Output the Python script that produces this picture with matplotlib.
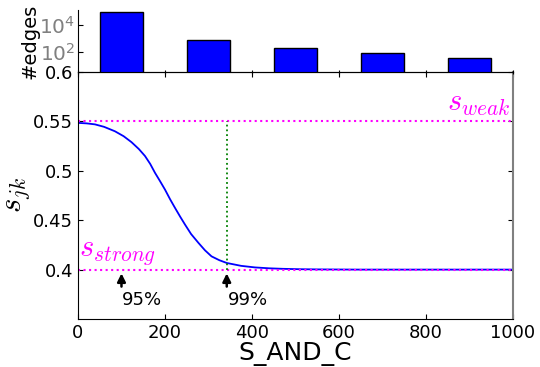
import numpy as np
import matplotlib
matplotlib.use('Agg')
import matplotlib.pyplot as plt

plt.rcParams['mathtext.fontset'] = 'cm'

# 곡선 데이터
curve_x = [0, 20, 39, 60, 85, 105, 123, 140, 154, 166, 177, 188, 200, 212, 223, 235, 246,
           260, 277, 292, 307, 325, 342, 375, 407, 440, 470, 510, 550, 600, 650, 1000]
curve_y = [0.5485, 0.548, 0.547, 0.5445, 0.540, 0.535, 0.529, 0.522, 0.515, 0.507, 0.498,
           0.490, 0.481, 0.471, 0.4625, 0.4535, 0.4456, 0.436, 0.427, 0.4195, 0.4134,
           0.4095, 0.4067, 0.4038, 0.4022, 0.4013, 0.4008, 0.4004, 0.4002, 0.4001, 0.4, 0.4]

# 상단 막대그래프 (#edges)
bar_x = [100, 300, 500, 700, 900]
bar_h = [85000, 750, 185, 80, 37]

s_weak = 0.55
s_strong = 0.4
p95_x = 100
p99_x = 342

fig = plt.figure(figsize=(5.4, 3.67), dpi=100)
ax = fig.add_axes([0.1444, 0.1308, 0.8056, 0.673])
axh = fig.add_axes([0.1444, 0.8038, 0.8056, 0.169], sharex=ax)

# 메인 그래프
ax.plot(curve_x, curve_y, color='blue', lw=1.3)
ax.axhline(s_weak, color='magenta', ls=':', lw=1.5)
ax.axhline(s_strong, color='magenta', ls=':', lw=1.5)
ax.plot([p99_x, p99_x], [s_strong, s_weak], color='green', ls=':', lw=1.3)
ax.text(995, s_weak + 0.003, '$s_{weak}$', color='magenta', fontsize=22, ha='right', va='bottom')
ax.text(2, s_strong + 0.003, '$s_{strong}$', color='magenta', fontsize=22, ha='left', va='bottom')

for px, lab in [(p95_x, '95%'), (p99_x, '99%')]:
    ax.annotate('', xy=(px, s_strong - 0.001), xytext=(px, 0.38),
                arrowprops=dict(arrowstyle='-|>', color='black', lw=1.8, mutation_scale=12))
    ax.text(px + 2, 0.378, lab, fontsize=13, ha='left', va='top')

ax.set_xlim(0, 1000)
ax.set_ylim(0.35, 0.6)
ax.set_xticks([0, 200, 400, 600, 800, 1000])
ax.set_xticklabels(['0', '200', '400', '600', '800', '1000'])
ax.set_yticks([0.4, 0.45, 0.5, 0.55, 0.6])
ax.set_yticklabels(['0.4', '0.45', '0.5', '0.55', '0.6'])
ax.tick_params(direction='in', labelsize=13, top=True, right=True)
ax.spines['right'].set_color('gray')
ax.spines['right'].set_linewidth(1.5)
ax.set_xlabel('S_AND_C', fontsize=18, labelpad=0)
ax.set_ylabel('$s_{jk}$', fontsize=22)
ax.yaxis.set_label_coords(-0.105, 0.5)

# 상단 그래프
axh.bar(bar_x, bar_h, width=100, color='blue', edgecolor='black', lw=1)
axh.set_yscale('log')
axh.set_ylim(3.5, 1.2e5)
axh.set_yticks([1e2, 1e4])
axh.tick_params(axis='y', labelcolor='gray', labelsize=14.5, direction='in', pad=2)
axh.tick_params(axis='x', labelbottom=False, direction='inout')
axh.spines['top'].set_visible(False)
axh.spines['right'].set_visible(False)
axh.patch.set_alpha(0)
axh.set_ylabel('#edges', fontsize=14, labelpad=0)

fig.savefig('out.png', dpi=100)
